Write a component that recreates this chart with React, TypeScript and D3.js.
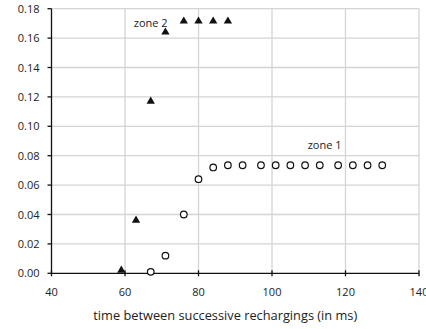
import React, { useEffect, useRef } from 'react';
import * as d3 from 'd3';

// zone 2 (triangles)
const zone2X = [59, 63, 67, 71, 76, 80, 84, 88];
const zone2Y = [0.002, 0.036, 0.117, 0.164, 0.1715, 0.1715, 0.1715, 0.1715];

// zone 1 (circles)
const zone1X = [67, 71, 76, 80, 84, 88, 92, 97, 101, 105, 109, 113, 118, 122, 126, 130];
const zone1Y = [0.001, 0.012, 0.040, 0.064, 0.072, 0.0735, 0.0735, 0.0735, 0.0735, 0.0735, 0.0735, 0.0735, 0.0735, 0.0735, 0.0735, 0.0735];

const xTicks = [40, 60, 80, 100, 120, 140];
const yTicks = [0, 0.02, 0.04, 0.06, 0.08, 0.1, 0.12, 0.14, 0.16, 0.18];

const labels = [
  { text: 'zone 2', x: 67, y: 0.1675 },
  { text: 'zone 1', x: 114.3, y: 0.0844 },
];

const font = '"Open Sans", "DejaVu Sans", sans-serif';

const App = () => {
  const ref = useRef<SVGSVGElement>(null);

  useEffect(() => {
    const width = 426;
    const height = 329;
    const svg = d3.select(ref.current);
    svg.selectAll('*').remove();
    svg.attr('width', width).attr('height', height);

    const x = d3.scaleLinear().domain([40, 140]).range([51.5, 419]);
    const y = d3.scaleLinear().domain([0, 0.18]).range([273.3, 8.7]);

    // grid
    const grid = svg.append('g').attr('stroke', '#d4d4d4').attr('stroke-width', 1.3);
    grid.selectAll('line.v')
      .data(xTicks.slice(1))
      .enter().append('line')
      .attr('x1', d => x(d)).attr('x2', d => x(d))
      .attr('y1', y(0)).attr('y2', y(0.18));
    grid.selectAll('line.h')
      .data(yTicks.slice(1))
      .enter().append('line')
      .attr('x1', x(40)).attr('x2', x(140))
      .attr('y1', d => y(d)).attr('y2', d => y(d));

    // axes
    const axis = svg.append('g').attr('stroke', '#111').attr('stroke-width', 1.3);
    axis.append('line')
      .attr('x1', x(40)).attr('x2', x(40))
      .attr('y1', y(0)).attr('y2', y(0.18));
    axis.append('line')
      .attr('x1', x(40)).attr('x2', x(140))
      .attr('y1', y(0)).attr('y2', y(0));
    axis.selectAll('line.yt')
      .data(yTicks)
      .enter().append('line')
      .attr('x1', x(40) - 4).attr('x2', x(40))
      .attr('y1', d => y(d)).attr('y2', d => y(d));
    axis.selectAll('line.xt')
      .data(xTicks)
      .enter().append('line')
      .attr('x1', d => x(d)).attr('x2', d => x(d))
      .attr('y1', y(0) - 3).attr('y2', y(0) + 3);

    // tick labels
    svg.append('g')
      .selectAll('text')
      .data(yTicks)
      .enter().append('text')
      .attr('x', x(40) - 12)
      .attr('y', d => y(d) + 4)
      .attr('text-anchor', 'end')
      .attr('font-family', font)
      .attr('font-size', 11)
      .attr('fill', '#222')
      .text(d => d.toFixed(2));

    svg.append('g')
      .selectAll('text')
      .data(xTicks)
      .enter().append('text')
      .attr('x', d => x(d))
      .attr('y', 295.5)
      .attr('text-anchor', 'middle')
      .attr('font-family', font)
      .attr('font-size', 11)
      .attr('fill', '#222')
      .text(d => d);

    svg.append('text')
      .attr('x', (x(40) + x(140)) / 2 - 10)
      .attr('y', 320)
      .attr('text-anchor', 'middle')
      .attr('font-family', font)
      .attr('font-size', 12.8)
      .attr('fill', '#222')
      .text('time between successive rechargings (in ms)');

    // zone labels
    svg.append('g')
      .selectAll('text')
      .data(labels)
      .enter().append('text')
      .attr('x', d => x(d.x))
      .attr('y', d => y(d.y))
      .attr('text-anchor', 'middle')
      .attr('font-family', font)
      .attr('font-size', 11)
      .attr('fill', '#222')
      .text(d => d.text);

    // triangles
    const tri = d3.symbol().type(d3.symbolTriangle).size(30);
    svg.append('g')
      .selectAll('path')
      .data(zone2X.map((v, i) => [v, zone2Y[i]]))
      .enter().append('path')
      .attr('d', tri)
      .attr('transform', d => `translate(${x(d[0])},${y(d[1])})`)
      .attr('fill', '#111');

    // circles
    svg.append('g')
      .selectAll('circle')
      .data(zone1X.map((v, i) => [v, zone1Y[i]]))
      .enter().append('circle')
      .attr('cx', d => x(d[0]))
      .attr('cy', d => y(d[1]))
      .attr('r', 3.3)
      .attr('fill', 'white')
      .attr('stroke', '#111')
      .attr('stroke-width', 1.2);
  }, []);

  return (
    <div style={{ position: 'absolute', left: 0, top: 0 }}>
      <svg ref={ref}></svg>
    </div>
  );
};

export default App;
